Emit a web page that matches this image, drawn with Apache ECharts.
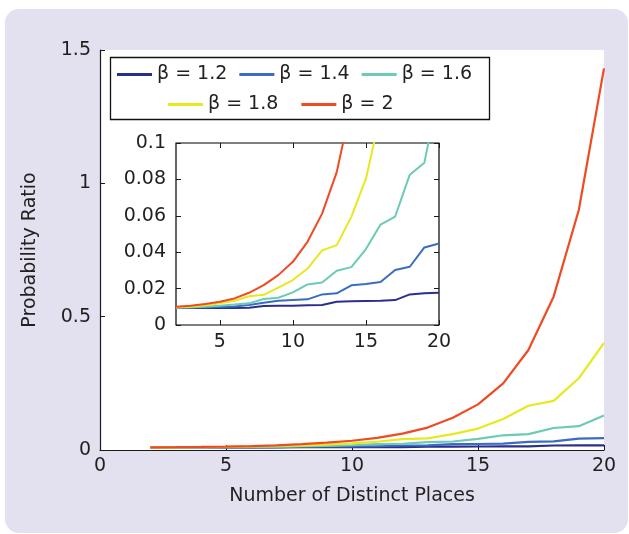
<!DOCTYPE html>
<html>
<head>
<meta charset="utf-8">
<title>Probability Ratio vs Number of Distinct Places</title>
<script src="https://cdn.jsdelivr.net/npm/echarts@6/dist/echarts.min.js"></script>
<style>
  html, body { margin: 0; padding: 0; background: #ffffff; }
  #chart { width: 629px; height: 534px; }
</style>
</head>
<body>
<div id="chart"></div>
<script>
// Number of distinct places (x values shared by every curve)
const places = [2, 3, 4, 5, 6, 7, 8, 9, 10, 11, 12, 13, 14, 15, 16, 17, 18, 19, 20];

// Probability ratio for each exponent beta
const ratioBeta12 = [0.0093, 0.0093, 0.0093, 0.0093, 0.0094, 0.0095, 0.0104, 0.0106, 0.0106, 0.0108, 0.0110, 0.0128, 0.0130, 0.0132, 0.0133, 0.0137, 0.0168, 0.0174, 0.0177];
const ratioBeta14 = [0.0095, 0.0095, 0.0097, 0.0099, 0.0102, 0.0110, 0.0122, 0.0133, 0.0137, 0.0141, 0.0168, 0.0174, 0.0218, 0.0225, 0.0236, 0.0302, 0.0320, 0.0426, 0.0448];
const ratioBeta16 = [0.0095, 0.0097, 0.0100, 0.0106, 0.0112, 0.0119, 0.0143, 0.0150, 0.0179, 0.0223, 0.0234, 0.0298, 0.0318, 0.0417, 0.0552, 0.0596, 0.0826, 0.0892, 0.129];
const ratioBeta18 = [0.0097, 0.0100, 0.0108, 0.0119, 0.0133, 0.0158, 0.0166, 0.0205, 0.0247, 0.0310, 0.0410, 0.0439, 0.0594, 0.0804, 0.116, 0.166, 0.184, 0.269, 0.402];
const ratioBeta20 = [0.0100, 0.0106, 0.0115, 0.0128, 0.0146, 0.0177, 0.0219, 0.0274, 0.0347, 0.0457, 0.0612, 0.0840, 0.121, 0.171, 0.250, 0.375, 0.575, 0.900, 1.431];

const seriesNames = ['β = 1.2', 'β = 1.4', 'β = 1.6', 'β = 1.8', 'β = 2'];
const seriesValues = [ratioBeta12, ratioBeta14, ratioBeta16, ratioBeta18, ratioBeta20];
const seriesColors = ['#2b2f8c', '#3b6cc4', '#6ccab5', '#e8e81c', '#f04a23'];

// Tick values
const mainXTicks = [0, 5, 10, 15, 20];
const mainYTicks = [0, 0.5, 1, 1.5];
const insetXTicks = [5, 10, 15, 20];
const insetYTicks = [0, 0.02, 0.04, 0.06, 0.08, 0.1];

const FONT = 'DejaVu Sans';
const TEXT = '#231f20';
const AXIS = '#1a1a1a';

function pairs(vals) {
  return places.map((x, i) => [x, vals[i]]);
}

const mainSeries = seriesNames.map((name, i) => ({
  name: name,
  type: 'line',
  xAxisIndex: 0,
  yAxisIndex: 0,
  data: pairs(seriesValues[i]),
  showSymbol: false,
  symbol: 'none',
  lineStyle: { color: seriesColors[i], width: 2.2 },
  itemStyle: { color: seriesColors[i] },
  z: 2 + i
}));

const insetSeries = seriesNames.map((name, i) => ({
  name: name,
  type: 'line',
  xAxisIndex: 1,
  yAxisIndex: 1,
  data: pairs(seriesValues[i]),
  showSymbol: false,
  symbol: 'none',
  clip: true,
  lineStyle: { color: seriesColors[i], width: 2 },
  itemStyle: { color: seriesColors[i] },
  z: 12 + i
}));

const tickInside = { show: true, inside: true, length: 5, lineStyle: { color: AXIS, width: 1 } };
const labelStyle = { color: TEXT, fontFamily: FONT, fontSize: 19 };

const legendCommon = {
  orient: 'horizontal',
  icon: 'rect',
  itemWidth: 35,
  itemHeight: 3,
  padding: 0,
  selectedMode: false,
  textStyle: { color: TEXT, fontFamily: FONT, fontSize: 19 },
  z: 6
};

const option = {
  animation: false,
  backgroundColor: 'transparent',
  graphic: [
    {
      type: 'rect',
      z: -100,
      silent: true,
      shape: { x: 5, y: 9, width: 623, height: 524, r: 14 },
      style: { fill: '#e3e0ef' }
    },
    {
      type: 'rect',
      z: 5,
      silent: true,
      shape: { x: 110.5, y: 57.5, width: 379, height: 62 },
      style: { fill: '#ffffff', stroke: '#111111', lineWidth: 1.3 }
    }
  ],
  legend: [
    Object.assign({}, legendCommon, {
      data: seriesNames.slice(0, 3),
      left: 117,
      top: 65,
      itemGap: 12
    }),
    Object.assign({}, legendCommon, {
      data: seriesNames.slice(3),
      left: 168,
      top: 95,
      itemGap: 23
    })
  ],
  grid: [
    {
      left: 100, top: 50, width: 504, height: 400,
      show: true, backgroundColor: '#ffffff', borderWidth: 0,
      containLabel: false
    },
    {
      left: 176, top: 143, width: 263, height: 182,
      show: true, backgroundColor: '#ffffff', borderColor: '#000000', borderWidth: 1.2,
      containLabel: false, z: 10
    }
  ],
  xAxis: [
    {
      type: 'value', gridIndex: 0, min: 0, max: 20, interval: 5,
      name: 'Number of Distinct Places', nameLocation: 'middle', nameGap: 37,
      nameTextStyle: { color: TEXT, fontFamily: FONT, fontSize: 19 },
      axisLine: { show: true, onZero: false, lineStyle: { color: AXIS, width: 1.2 } },
      axisTick: Object.assign({}, tickInside, { customValues: mainXTicks }),
      axisLabel: Object.assign({}, labelStyle, { margin: 7, customValues: mainXTicks }),
      splitLine: { show: false }
    },
    {
      type: 'value', gridIndex: 1, min: 2, max: 20,
      axisLine: { show: false, onZero: false },
      axisTick: Object.assign({}, tickInside, { customValues: insetXTicks }),
      axisLabel: Object.assign({}, labelStyle, { margin: 8, customValues: insetXTicks }),
      splitLine: { show: false },
      z: 11
    },
    {
      type: 'value', gridIndex: 1, min: 2, max: 20, position: 'top',
      axisLine: { show: false, onZero: false },
      axisTick: Object.assign({}, tickInside, { customValues: insetXTicks }),
      axisLabel: { show: false },
      splitLine: { show: false },
      z: 11
    }
  ],
  yAxis: [
    {
      type: 'value', gridIndex: 0, min: 0, max: 1.5, interval: 0.5,
      name: 'Probability Ratio', nameLocation: 'middle', nameGap: 60,
      nameTextStyle: { color: TEXT, fontFamily: FONT, fontSize: 19 },
      axisLine: { show: true, onZero: false, lineStyle: { color: AXIS, width: 1.2 } },
      axisTick: Object.assign({}, tickInside, { customValues: mainYTicks }),
      axisLabel: Object.assign({}, labelStyle, { margin: 9, customValues: mainYTicks }),
      splitLine: { show: false }
    },
    {
      type: 'value', gridIndex: 1, min: 0, max: 0.1, interval: 0.02,
      axisLine: { show: false, onZero: false },
      axisTick: Object.assign({}, tickInside, { customValues: insetYTicks }),
      axisLabel: Object.assign({}, labelStyle, { margin: 10, customValues: insetYTicks }),
      splitLine: { show: false },
      z: 11
    },
    {
      type: 'value', gridIndex: 1, min: 0, max: 0.1, interval: 0.02, position: 'right',
      axisLine: { show: false, onZero: false },
      axisTick: Object.assign({}, tickInside, { customValues: insetYTicks }),
      axisLabel: { show: false },
      splitLine: { show: false },
      z: 11
    }
  ],
  series: mainSeries.concat(insetSeries)
};

const chart = echarts.init(document.getElementById('chart'), null, { renderer: 'canvas' });
chart.setOption(option);
</script>
</body>
</html>
